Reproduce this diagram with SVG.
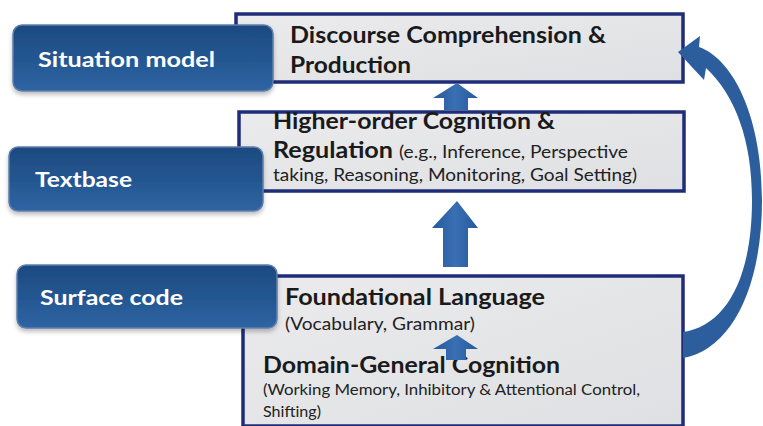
<svg xmlns="http://www.w3.org/2000/svg" width="763" height="426" viewBox="0 0 763 426">
<defs>
<linearGradient id="lbl" x1="0" y1="0" x2="0" y2="1">
<stop offset="0" stop-color="#1d4a80"/>
<stop offset="0.5" stop-color="#235690"/>
<stop offset="1" stop-color="#3064a3"/>
</linearGradient>
<linearGradient id="box" x1="0" y1="0" x2="1" y2="1">
<stop offset="0" stop-color="#ebebed"/>
<stop offset="1" stop-color="#dfe0e3"/>
</linearGradient>
<linearGradient id="arr" x1="0" y1="0" x2="1" y2="0">
<stop offset="0" stop-color="#245a9c"/>
<stop offset="0.5" stop-color="#3a6fb3"/>
<stop offset="1" stop-color="#245a9c"/>
</linearGradient>
<filter id="sh" x="-10%" y="-10%" width="120%" height="130%">
<feDropShadow dx="0" dy="3" stdDeviation="2" flood-color="#000" flood-opacity="0.25"/>
</filter>
</defs>
<style>
.box{fill:url(#box);stroke:#1f2c78;stroke-width:3.5}
.lbl{fill:url(#lbl);stroke:#5f7fab;stroke-width:1.5;filter:url(#sh)}
.lt{font-family:Lato,"Liberation Sans",Arial,sans-serif;font-weight:bold;font-size:21px;fill:#ffffff}
.hb{font-family:Lato,"Liberation Sans",Arial,sans-serif;font-weight:bold;font-size:22px;fill:#1a1a1a}
.sm{font-family:Lato,"Liberation Sans",Arial,sans-serif;font-size:16.5px;fill:#222}
.xs{font-family:Lato,"Liberation Sans",Arial,sans-serif;font-size:14.5px;fill:#222}
.arrow{fill:url(#arr)}
.curve{fill:#2c5e9e}
</style>

<g id="node-discourse">
<rect class="box" x="236" y="14" width="447" height="68"/>
<text class="hb" x="290" y="43" textLength="316" lengthAdjust="spacingAndGlyphs">Discourse Comprehension &amp;</text>
<text class="hb" x="290" y="73" textLength="121" lengthAdjust="spacingAndGlyphs">Production</text>
</g>

<g id="node-higher">
<rect class="box" x="239" y="112" width="445" height="79"/>
<text class="hb" x="273" y="129" textLength="282" lengthAdjust="spacingAndGlyphs">Higher-order Cognition &amp;</text>
<text class="hb" x="273" y="158" textLength="120" lengthAdjust="spacingAndGlyphs">Regulation</text>
<text class="sm" x="399" y="158" textLength="229" lengthAdjust="spacingAndGlyphs">(e.g., Inference, Perspective</text>
<text class="sm" x="273" y="181" textLength="364" lengthAdjust="spacingAndGlyphs">taking, Reasoning, Monitoring, Goal Setting)</text>
</g>

<g id="node-foundation">
<rect class="box" x="243" y="276" width="440" height="150"/>
<text class="hb" x="285" y="305" textLength="260" lengthAdjust="spacingAndGlyphs">Foundational Language</text>
<text class="sm" x="285" y="330" textLength="190" lengthAdjust="spacingAndGlyphs">(Vocabulary, Grammar)</text>
<text class="hb" x="263" y="373" textLength="297" lengthAdjust="spacingAndGlyphs">Domain-General Cognition</text>
<text class="xs" x="263" y="395" textLength="377" lengthAdjust="spacingAndGlyphs">(Working Memory, Inhibitory &amp; Attentional Control,</text>
<text class="xs" x="263" y="417" textLength="58" lengthAdjust="spacingAndGlyphs">Shifting)</text>
</g>

<g id="label-situation">
<rect class="lbl" x="13" y="25" width="260" height="66" rx="9"/>
<text class="lt" x="38" y="67" textLength="177" lengthAdjust="spacingAndGlyphs">Situation model</text>
</g>

<g id="label-textbase">
<rect class="lbl" x="9" y="147" width="254" height="64" rx="9"/>
<text class="lt" x="35" y="187" textLength="97" lengthAdjust="spacingAndGlyphs">Textbase</text>
</g>

<g id="label-surface">
<rect class="lbl" x="17" y="265" width="260" height="63" rx="9"/>
<text class="lt" x="40" y="305" textLength="143" lengthAdjust="spacingAndGlyphs">Surface code</text>
</g>

<g id="connectors">
<path class="arrow" d="M457,83 L478,98 L468,98 L468,110 L444,110 L444,98 L433,98 Z"/>
<path class="arrow" d="M457,201 L478,228 L468,228 L468,267 L443,267 L443,228 L432,228 Z"/>
<path class="arrow" d="M457,335 L478,349 L466,349 L466,360 L446,360 L446,349 L433,349 Z"/>
<path class="curve" d="M678,52 L700,36 L699,47 C735,60 762,120 762,200 C762,290 730,350 683,358 L683,332 C725,326 752,280 752,200 C752,140 735,95 706,68 L704,80 Z"/>
</g>
</svg>
